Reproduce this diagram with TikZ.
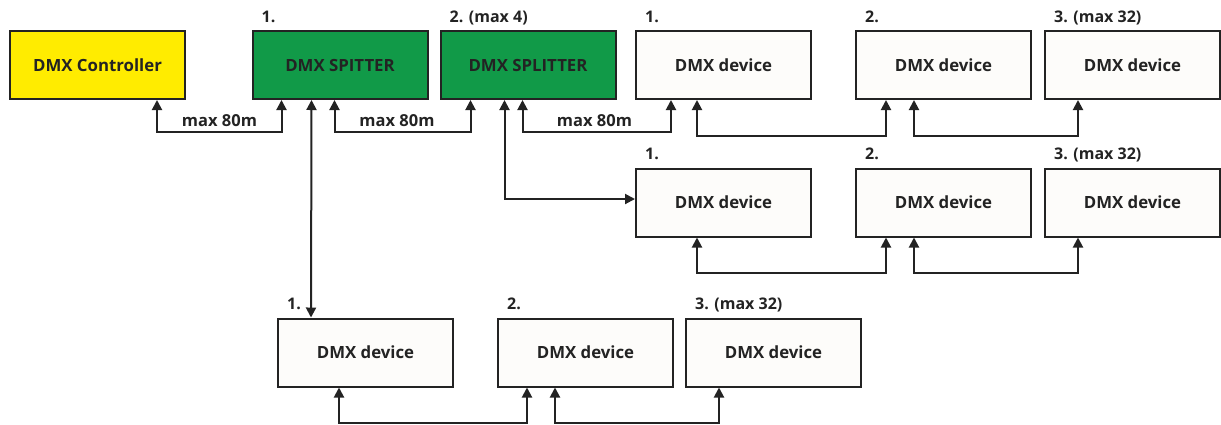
\documentclass[tikz,border=0pt]{standalone}
\usepackage{fontspec}
\setmainfont{Open Sans}
\usetikzlibrary{arrows.meta,calc}
\definecolor{ctrlyellow}{RGB}{255,236,0}
\definecolor{splgreen}{RGB}{17,154,72}
\definecolor{devfill}{RGB}{253,252,250}
\definecolor{ink}{RGB}{35,35,35}
\tikzset{
  box/.style={draw=ink, line width=2pt, rectangle, minimum width=175pt, minimum height=68pt, inner sep=0pt,
    font=\fontsize{16.8}{19}\selectfont\bfseries, text=ink},
  ctrlbox/.style={box, fill=ctrlyellow},
  splbox/.style={box, fill=splgreen},
  devbox/.style={box, fill=devfill},
  tag/.style={anchor=base west, inner sep=0pt, font=\fontsize{16}{18}\selectfont\bfseries, text=ink},
  lenlbl/.style={anchor=base, inner sep=0pt, font=\fontsize{16.5}{18}\selectfont\bfseries, text=ink},
  link/.style={draw=ink, line width=2pt, {Triangle[width=10pt,length=10pt]}-{Triangle[width=10pt,length=10pt]}},
}
\begin{document}
\begin{tikzpicture}[x=1pt,y=-1pt]
\useasboundingbox (0,0) rectangle (1221,424);
% top row
\node[ctrlbox] (ctrl) at (97.5,65) {DMX Controller};
\node[splbox] (sp1) at (340,65) {DMX SPITTER};
\node[splbox] (sp2) at (528,65) {DMX SPLITTER};
\node[devbox] (t1) at (723.5,65) {DMX device};
\node[devbox] (t2) at (943.5,65) {DMX device};
\node[devbox] (t3) at (1132.5,65) {DMX device};
% middle row
\node[devbox] (m1) at (723.5,202.5) {DMX device};
\node[devbox] (m2) at (943.5,202.5) {DMX device};
\node[devbox] (m3) at (1132.5,202.5) {DMX device};
% bottom row
\node[devbox] (b1) at (365.5,352.5) {DMX device};
\node[devbox] (b2) at (585.5,352.5) {DMX device};
\node[devbox] (b3) at (773.5,352.5) {DMX device};
% tags
\foreach \n/\t in {sp1/1., sp2/2. (max 4), t1/1., t2/2., t3/3. (max 32), m1/1., m2/2., m3/3. (max 32), b1/1., b2/2., b3/3. (max 32)}{
  \node[tag] (l\n) at ($(\n.north west)+(10,-8)$) {\t};
}
% controller -> splitter 1
\draw[link] ($(ctrl.south west)+(148,0)$) -- ++(0,32) coordinate (c1) -| ($(sp1.south west)+(30,0)$);
\node[lenlbl] (d1) at ($(c1)+(62.5,-6)$) {max 80m};
% splitter 1 -> splitter 2
\draw[link] ($(sp1.south west)+(83,0)$) -- ++(0,32) coordinate (c2) -| ($(sp2.south west)+(31,0)$);
\node[lenlbl] (d2) at ($(c2)+(62.5,-6)$) {max 80m};
% splitter 2 -> top device 1
\draw[link] ($(sp2.south west)+(83,0)$) -- ++(0,32) coordinate (c3) -| ($(t1.south west)+(36,0)$);
\node[lenlbl] (d3) at ($(c3)+(72,-6)$) {max 80m};
% splitter 1 -> bottom row
\draw[link] ($(sp1.south west)+(60,0)$) -- ($(b1.north west)+(34,0)$);
% splitter 2 -> middle row
\draw[link] ($(sp2.south west)+(65,0)$) |- ($(m1.west)+(0,-3.5)$);
% top row chain
\draw[link] ($(t1.south west)+(62,0)$) -- ++(0,36) -| ($(t2.south west)+(31,0)$);
\draw[link] ($(t2.south west)+(59,0)$) -- ++(0,36) -| ($(t3.south west)+(34,0)$);
% middle row chain
\draw[link] ($(m1.south west)+(62,0)$) -- ++(0,35) -| ($(m2.south west)+(31,0)$);
\draw[link] ($(m2.south west)+(59,0)$) -- ++(0,35) -| ($(m3.south west)+(34,0)$);
% bottom row chain
\draw[link] ($(b1.south west)+(62,0)$) -- ++(0,35) -| ($(b2.south west)+(30,0)$);
\draw[link] ($(b2.south west)+(58,0)$) -- ++(0,35) -| ($(b3.south west)+(34,0)$);
\end{tikzpicture}
\end{document}
